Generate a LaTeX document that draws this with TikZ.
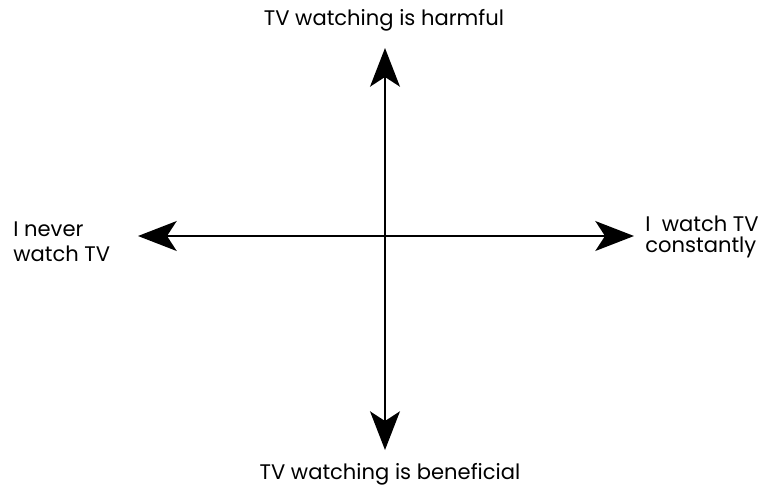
\documentclass[tikz,border=0pt]{standalone}
\usepackage{fontspec}
\setmainfont{Poppins}
\usetikzlibrary{arrows.meta}

\begin{document}
\begin{tikzpicture}[x=0.02cm,y=-0.02cm,
    axis/.style={line width=1.1pt, {Stealth[length=22pt,width=17pt,inset=5.5pt]}-{Stealth[length=22pt,width=17pt,inset=5.5pt]}},
    lbl/.style={inner sep=0pt, font=\fontsize{12}{14}\selectfont}]
            \useasboundingbox (0,0) rectangle (764,488);
            \coordinate (w) at (138,236);
            \coordinate (e) at (634,236);
            \coordinate (n) at (385,48);
            \coordinate (s) at (385,450);
            \node[lbl] (harm) at (384,20) {TV watching is harmful};
            \node[lbl] (good) at (390,474) {TV watching is beneficial};
            \node[lbl, align=left, anchor=west, font=\fontsize{12}{14.2}\selectfont] (never) at (13,242) {I never\\watch TV};
            \node[lbl, align=left, anchor=west, font=\fontsize{12}{11.5}\selectfont] (always) at (645,237) {I\ \ watch TV\\constantly};
            \draw[axis] (w) -- (e);
            \draw[axis] (n) -- (s);
        \end{tikzpicture}
\end{document}
